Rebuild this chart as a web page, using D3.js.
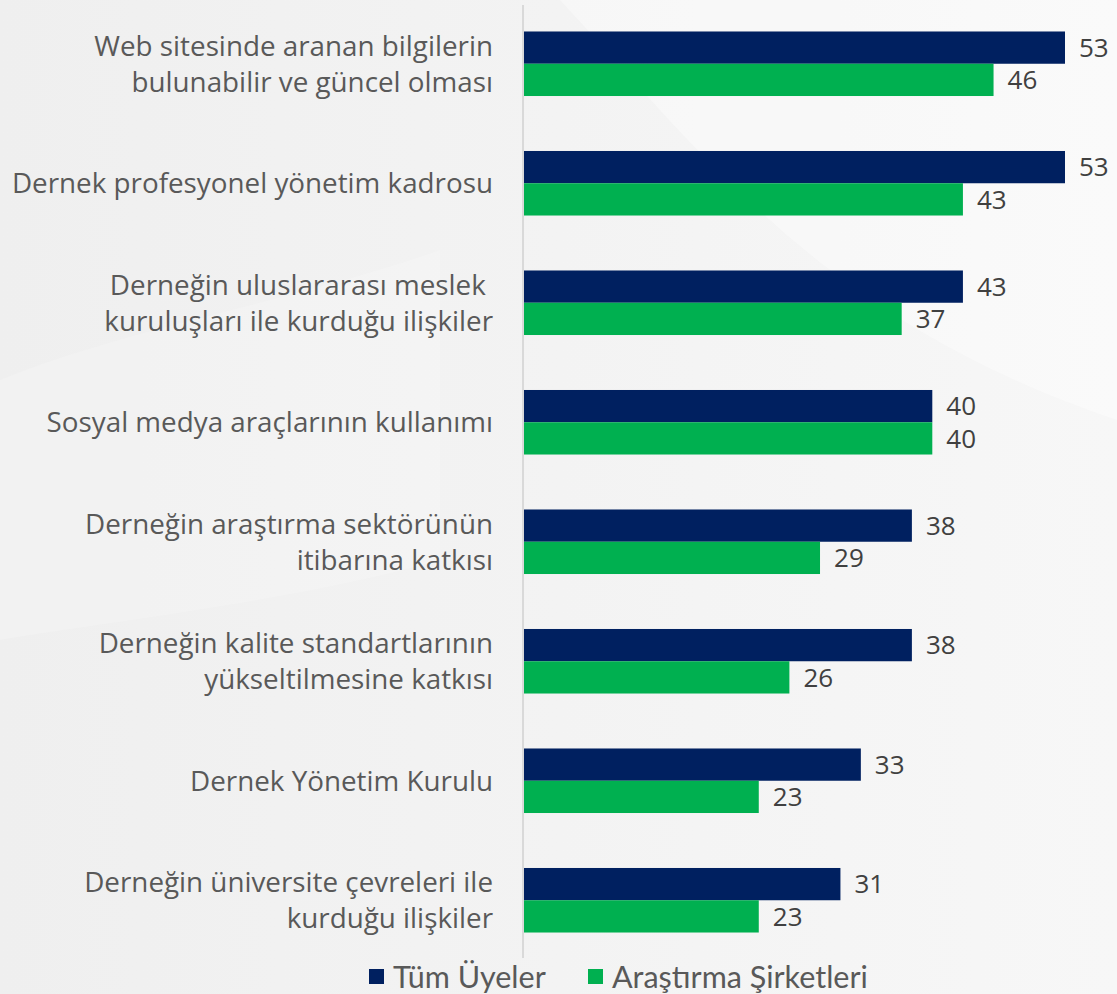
<!DOCTYPE html>
<html>
<head>
<meta charset="utf-8">
<script src="https://cdn.jsdelivr.net/npm/d3@7/dist/d3.min.js"></script>
<style>
  html, body { margin: 0; padding: 0; background: #f3f3f3; }
  svg { display: block; }
</style>
</head>
<body>
<svg id="chart" width="1117" height="994"></svg>
<script>
// Categories (each entry is the list of label lines)
const categories = [
  ["Web sitesinde aranan bilgilerin", "bulunabilir ve güncel olması"],
  ["Dernek profesyonel yönetim kadrosu"],
  ["Derneğin uluslararası meslek ", "kuruluşları ile kurduğu ilişkiler"],
  ["Sosyal medya araçlarının kullanımı"],
  ["Derneğin araştırma sektörünün", "itibarına katkısı"],
  ["Derneğin kalite standartlarının", "yükseltilmesine katkısı"],
  ["Dernek Yönetim Kurulu"],
  ["Derneğin üniversite çevreleri ile", "kurduğu ilişkiler"]
];
const seriesNames = ["Tüm Üyeler", "Araştırma Şirketleri"];
const tumUyeler = [53, 53, 43, 40, 38, 38, 33, 31];
const arastirmaSirketleri = [46, 43, 37, 40, 29, 26, 23, 23];
const colors = ["#002060", "#00b050"];

const W = 1117, H = 994;
const svg = d3.select("#chart");

// Soft background with lighter sweeping shapes
const defs = svg.append("defs");
const bg = defs.append("linearGradient").attr("id", "bg").attr("x1", 0).attr("x2", 1).attr("y1", 0).attr("y2", 0);
bg.append("stop").attr("offset", 0).attr("stop-color", "#efefef");
bg.append("stop").attr("offset", 1).attr("stop-color", "#f7f7f7");
svg.append("rect").attr("width", W).attr("height", H).attr("fill", "url(#bg)");
svg.append("path")
  .attr("d", "M560,0 C700,150 820,320 1117,420 L1117,0 Z")
  .attr("fill", "#ffffff").attr("opacity", 0.35);
svg.append("path")
  .attr("d", "M0,380 C120,330 300,300 440,250 L440,560 C300,600 120,620 0,640 Z")
  .attr("fill", "#ffffff").attr("opacity", 0.18);

const x0 = 524;
const x = d3.scaleLinear().domain([0, 53]).range([x0, 1065]);
const y = d3.scaleBand().domain(d3.range(categories.length)).range([4, 960])
  .paddingInner(0.46).paddingOuter(0.23);
const ySub = d3.scaleBand().domain([0, 1]).range([0, y.bandwidth()]);

// Vertical axis line
svg.append("line")
  .attr("x1", x0 - 1).attr("x2", x0 - 1)
  .attr("y1", 5).attr("y2", 958)
  .attr("stroke", "#d9d9d9").attr("stroke-width", 2);

const rows = categories.map((c, i) => ({ i, lines: c, vals: [tumUyeler[i], arastirmaSirketleri[i]] }));

const g = svg.selectAll("g.row").data(rows).join("g")
  .attr("class", "row")
  .attr("transform", d => `translate(0,${y(d.i)})`);

g.selectAll("rect").data(d => d.vals.map((v, s) => ({ v, s }))).join("rect")
  .attr("x", x0)
  .attr("y", d => ySub(d.s))
  .attr("width", d => x(d.v) - x0)
  .attr("height", ySub.bandwidth())
  .attr("fill", d => colors[d.s]);

g.selectAll("text.val").data(d => d.vals.map((v, s) => ({ v, s }))).join("text")
  .attr("class", "val")
  .attr("x", d => x(d.v) + 14)
  .attr("y", d => ySub(d.s) + ySub.bandwidth() / 2)
  .attr("dy", "0.36em")
  .attr("font-family", "'Open Sans', sans-serif")
  .attr("font-size", 26)
  .attr("fill", "#404040")
  .text(d => d.v);

// Category labels, right-aligned to the left of the axis
g.each(function(d) {
  const n = d.lines.length;
  const lh = 36;
  const cy = y.bandwidth() / 2;
  const t = d3.select(this).append("text")
    .attr("text-anchor", "end")
    .attr("font-family", "'Open Sans', sans-serif")
    .attr("font-size", 27.8)
    .attr("fill", "#595959");
  d.lines.forEach((line, k) => {
    t.append("tspan")
      .attr("x", 493)
      .attr("y", cy + (k - (n - 1) / 2) * lh)
      .attr("dy", "0.36em")
      .attr("xml:space", "preserve")
      .text(line);
  });
});

// Legend
const legend = svg.append("g").attr("transform", "translate(0,977)");
const legendX = [369, 588];
seriesNames.forEach((name, s) => {
  legend.append("rect")
    .attr("x", legendX[s]).attr("y", -8)
    .attr("width", 15).attr("height", 15)
    .attr("fill", colors[s]);
  legend.append("text")
    .attr("x", legendX[s] + 24).attr("y", 0)
    .attr("dy", "0.36em")
    .attr("font-family", "Lato, sans-serif")
    .attr("font-size", 30.5)
    .attr("fill", "#595959")
    .text(name);
});
</script>
</body>
</html>
